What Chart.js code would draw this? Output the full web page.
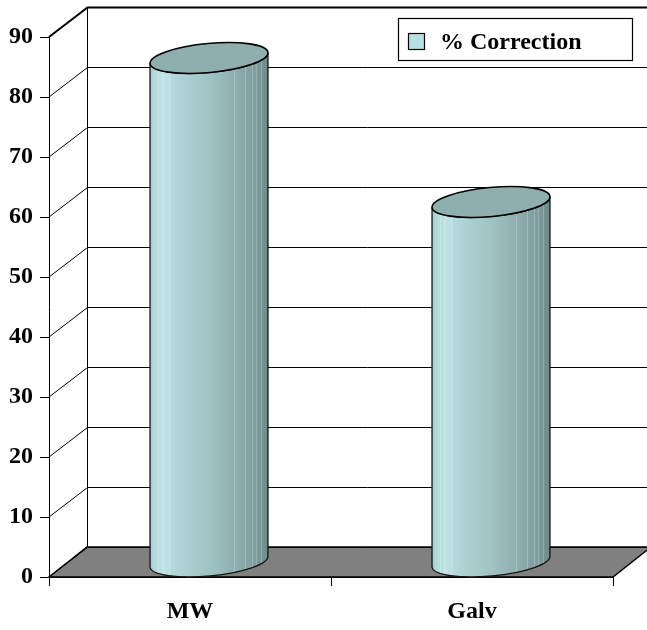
<!DOCTYPE html>
<html>
<head>
<meta charset="utf-8">
<script src="https://cdn.jsdelivr.net/npm/chart.js@4.4.0/dist/chart.umd.min.js"></script>
<style>
  html, body { margin: 0; padding: 0; background: #ffffff; }
  canvas { display: block; }
</style>
</head>
<body>
<canvas id="chart" width="647" height="630"></canvas>
<script>
// ---- data ----
const categories = ['MW', 'Galv'];
const correction = [84, 60];
const seriesName = '% Correction';
const yTickValues = [0, 10, 20, 30, 40, 50, 60, 70, 80, 90];

// ---- styling ----
const DEPTH_X = 38;      // horizontal depth of the 3D box
const DEPTH_Y = -30;     // vertical depth of the 3D box
const TEXT_FONT = 'bold 24px "Liberation Serif", "Times New Roman", serif';
const SWATCH_COLOR = '#b8e0e3';
const TOP_COLOR = '#8fafaf';

function bodyGradient(ctx, x0, x1) {
  const g = ctx.createLinearGradient(x0, 0, x1, 0);
  g.addColorStop(0.00, '#a4cdcf');
  g.addColorStop(0.05, '#b6dcde');
  g.addColorStop(0.12, '#c0e3e5');
  g.addColorStop(0.22, '#b2d6d8');
  g.addColorStop(0.36, '#a8cbcc');
  g.addColorStop(0.50, '#a0c3c4');
  g.addColorStop(0.65, '#94b5b6');
  g.addColorStop(0.80, '#87a6a7');
  g.addColorStop(0.90, '#7e9c9c');
  g.addColorStop(1.00, '#6c8a8a');
  return g;
}

// outline of a cylinder body: both sides plus the front half of each end
function bodyPath(ctx, cx, topY, baseY, rx, ry, rot) {
  const lx = -rx * Math.cos(rot);
  const ly = -rx * Math.sin(rot);
  ctx.beginPath();
  ctx.moveTo(cx + lx, topY + ly);
  ctx.lineTo(cx + lx, baseY + ly);
  ctx.ellipse(cx, baseY, rx, ry, rot, Math.PI, 0, true);
  ctx.lineTo(cx - lx, topY - ly);
  ctx.ellipse(cx, topY, rx, ry, rot, 0, Math.PI, false);
  ctx.closePath();
}

// Walls, floor and gridlines of the 3D box
const box3d = {
  id: 'box3d',
  beforeDatasetsDraw(chart) {
    const { ctx, chartArea: a, scales: { y } } = chart;
    const base = y.getPixelForValue(y.min);
    const top = y.getPixelForValue(y.max);
    const backX = a.left + DEPTH_X + 0.5;
    ctx.save();

    // floor
    ctx.beginPath();
    ctx.moveTo(a.left, base);
    ctx.lineTo(a.right, base);
    ctx.lineTo(a.right + DEPTH_X, base + DEPTH_Y);
    ctx.lineTo(a.left + DEPTH_X, base + DEPTH_Y);
    ctx.closePath();
    ctx.fillStyle = '#808080';
    ctx.fill();
    ctx.lineWidth = 1.5;
    ctx.strokeStyle = '#000000';
    ctx.stroke();

    // side wall diagonals and back wall gridlines
    y.ticks.forEach(t => {
      const py = y.getPixelForValue(t.value);
      const by = Math.round(py + DEPTH_Y) + 0.5;
      ctx.beginPath();
      ctx.moveTo(a.left, py);
      ctx.lineTo(backX, by);
      ctx.lineTo(a.right + DEPTH_X + 10, by);
      ctx.lineWidth = t.value === y.max ? 2 : 1;
      ctx.stroke();
    });

    // back corner
    ctx.lineWidth = 1;
    ctx.beginPath();
    ctx.moveTo(backX, base + DEPTH_Y);
    ctx.lineTo(backX, top + DEPTH_Y);
    ctx.stroke();
    ctx.restore();
  },

  // cylinders built on the bar elements
  afterDatasetsDraw(chart) {
    const { ctx } = chart;
    const meta = chart.getDatasetMeta(0);
    const rot = -0.093;
    const ry = 14.5;
    ctx.save();
    meta.data.forEach(bar => {
      const cx = bar.x + DEPTH_X / 2;
      const topY = bar.y + DEPTH_Y / 2;
      const baseY = bar.base + DEPTH_Y / 2;
      const rx = bar.width / 2;

      // body
      bodyPath(ctx, cx, topY, baseY, rx, ry, rot);
      ctx.fillStyle = bodyGradient(ctx, cx - rx, cx + rx);
      ctx.fill();

      // faint vertical banding
      ctx.save();
      ctx.clip();
      ctx.strokeStyle = 'rgba(255,255,255,0.22)';
      ctx.lineWidth = 1;
      [0.07, 0.1, 0.16, 0.71, 0.8, 0.86, 0.9, 0.94].forEach(f => {
        const x = Math.round(cx - rx + f * 2 * rx) + 0.5;
        ctx.beginPath();
        ctx.moveTo(x, topY - 20);
        ctx.lineTo(x, baseY + 20);
        ctx.stroke();
      });
      ctx.restore();

      bodyPath(ctx, cx, topY, baseY, rx, ry, rot);
      ctx.lineWidth = 1.3;
      ctx.strokeStyle = '#141414';
      ctx.stroke();

      // top cap
      ctx.beginPath();
      ctx.ellipse(cx, topY, rx, ry, rot, 0, Math.PI * 2);
      ctx.fillStyle = TOP_COLOR;
      ctx.fill();
      ctx.lineWidth = 1.6;
      ctx.strokeStyle = '#000000';
      ctx.stroke();
    });
    ctx.restore();
  },

  // legend box
  afterDraw(chart) {
    const { ctx } = chart;
    ctx.save();
    ctx.fillStyle = '#ffffff';
    ctx.fillRect(398, 18, 234, 42);
    ctx.lineWidth = 1.2;
    ctx.strokeStyle = '#000000';
    ctx.strokeRect(398.5, 18.5, 234, 42);
    ctx.fillStyle = SWATCH_COLOR;
    ctx.fillRect(408, 33, 17, 17);
    ctx.strokeRect(408.5, 33.5, 16, 16);
    ctx.fillStyle = '#000000';
    ctx.font = TEXT_FONT;
    ctx.textBaseline = 'alphabetic';
    ctx.textAlign = 'left';
    ctx.fillText(chart.data.datasets[0].label, 440, 49);
    ctx.restore();
  }
};

new Chart(document.getElementById('chart'), {
  type: 'bar',
  data: {
    labels: categories,
    datasets: [{
      label: seriesName,
      data: correction,
      backgroundColor: 'rgba(0,0,0,0)',
      borderWidth: 0,
      categoryPercentage: 1,
      barPercentage: 0.42
    }]
  },
  options: {
    responsive: false,
    animation: false,
    devicePixelRatio: 1,
    layout: { padding: { top: 37, right: 34, left: 0, bottom: 0 } },
    plugins: {
      legend: { display: false },
      tooltip: { enabled: false }
    },
    scales: {
      x: {
        offset: true,
        grid: {
          offset: true,
          drawOnChartArea: false,
          drawTicks: true,
          tickLength: 9,
          color: '#000000',
          lineWidth: 1
        },
        border: { display: true, color: '#000000', width: 1 },
        ticks: {
          color: '#000000',
          font: { family: '"Liberation Serif", "Times New Roman", serif', size: 24, weight: 'bold' },
          padding: 11,
          maxRotation: 0
        },
        afterFit(scale) { scale.height = 53; }
      },
      y: {
        min: yTickValues[0],
        max: yTickValues[yTickValues.length - 1],
        afterBuildTicks(scale) { scale.ticks = yTickValues.map(v => ({ value: v })); },
        grid: {
          drawOnChartArea: false,
          drawTicks: true,
          tickLength: 9,
          color: '#000000',
          lineWidth: 1
        },
        border: { display: true, color: '#000000', width: 1 },
        ticks: {
          color: '#000000',
          font: { family: '"Liberation Serif", "Times New Roman", serif', size: 24, weight: 'bold' },
          padding: 7
        },
        afterFit(scale) { scale.width = 49; }
      }
    }
  },
  plugins: [box3d]
});
</script>
</body>
</html>
